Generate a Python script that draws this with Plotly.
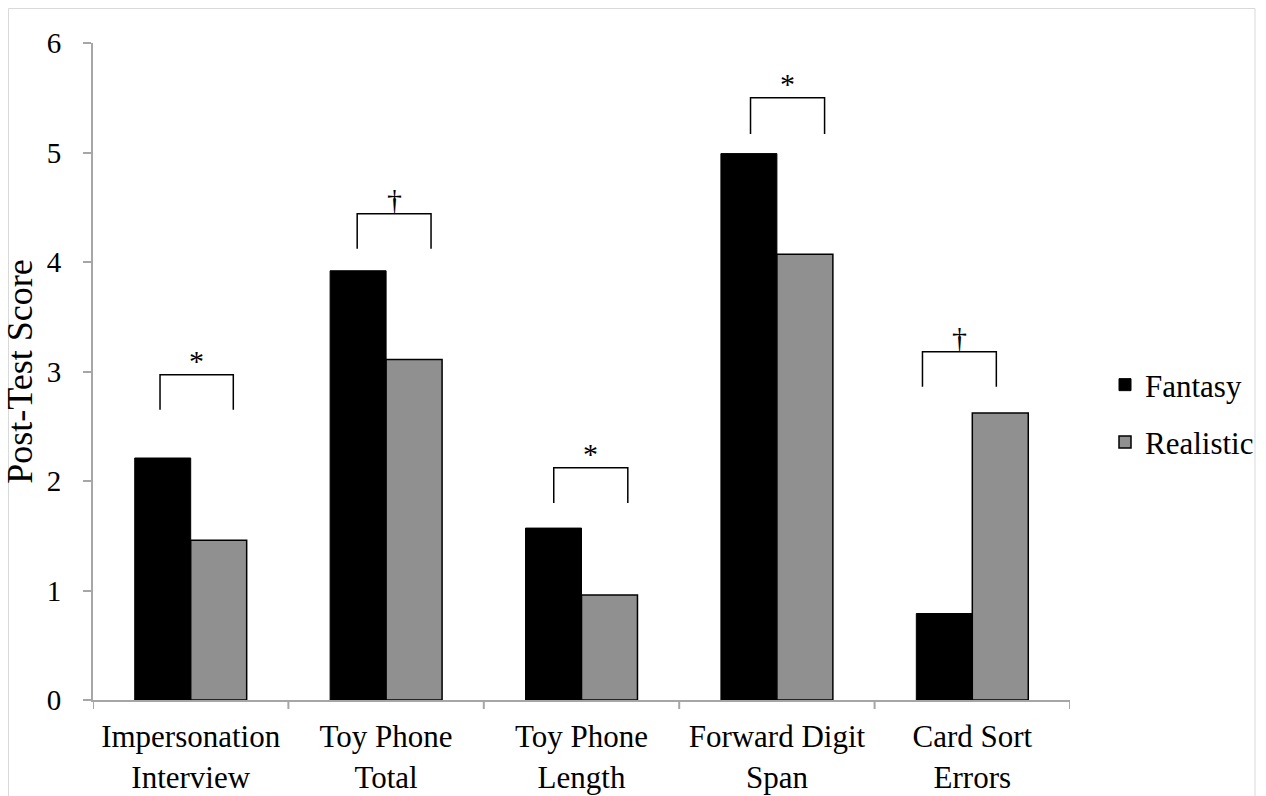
import plotly.graph_objects as go

categories = ["Impersonation<br>Interview", "Toy Phone<br>Total", "Toy Phone<br>Length",
              "Forward Digit<br>Span", "Card Sort<br>Errors"]
fantasy = [2.21, 3.92, 1.57, 4.99, 0.79]
realistic = [1.46, 3.11, 0.96, 4.07, 2.62]

# significance brackets (offsets relative to category centre, in category units)
bracket_left = [-0.157, -0.148, -0.142, -0.135, -0.255]
bracket_right = [0.218, 0.230, 0.237, 0.244, 0.123]
bracket_top = [2.97, 4.44, 2.12, 5.50, 3.18]
bracket_bottom = [2.65, 4.12, 1.80, 5.17, 2.86]
bracket_label = ["*", "†", "*", "*", "†"]

FONT = "Liberation Serif, Times New Roman, serif"
AXIS_GRAY = "#A6A6A6"

W, H = 1266, 796
# plot area in page pixels: x 93..1070, y 43..700
ML, MT = 93, 43
MR, MB = W - 1070, H - 700
PW, PH = W - ML - MR, H - MT - MB


def px_to_paper_y(abs_y):
    return (700 - abs_y) / PH


def px_to_paper_x(abs_x):
    return (abs_x - 93) / PW


fig = go.Figure()
fig.add_trace(go.Bar(name="Fantasy", x=list(range(len(categories))), y=fantasy,
                     marker=dict(color="#000000", line=dict(color="#000000", width=1)),
                     legendgroup="f"))
fig.add_trace(go.Bar(name="Realistic", x=list(range(len(categories))), y=realistic,
                     marker=dict(color="#909090", line=dict(color="#000000", width=1.5)),
                     legendgroup="r"))

shapes = []
annotations = []
for i in range(len(categories)):
    xl = i + bracket_left[i]
    xr = i + bracket_right[i]
    shapes.append(dict(type="path", xref="x", yref="y",
                       path=f"M {xl},{bracket_bottom[i]} L {xl},{bracket_top[i]} L {xr},{bracket_top[i]} L {xr},{bracket_bottom[i]}",
                       line=dict(color="#000000", width=1.5)))
    annotations.append(dict(x=(xl + xr) / 2, y=bracket_top[i], xref="x", yref="y",
                            text=bracket_label[i], showarrow=False, yanchor="bottom",
                            yshift=-4, font=dict(family=FONT, size=30, color="#000000")))

# light outer frame
shapes.append(dict(type="rect", xref="paper", yref="paper",
                   x0=px_to_paper_x(8.5), x1=px_to_paper_x(1255),
                   y0=px_to_paper_y(830), y1=px_to_paper_y(8.5),
                   line=dict(color="#D9D9D9", width=1), fillcolor="rgba(0,0,0,0)", layer="below"))

# category boundary ticks on the x axis
for b in [i - 0.5 for i in range(len(categories) + 1)]:
    shapes.append(dict(type="line", xref="x", yref="paper", x0=b, x1=b,
                       y0=0, y1=px_to_paper_y(709), line=dict(color=AXIS_GRAY, width=2)))

fig.update_layout(
    width=W, height=H,
    margin=dict(l=ML, r=MR, t=MT, b=MB, autoexpand=False),
    paper_bgcolor="white", plot_bgcolor="white",
    barmode="group", bargap=0.427, bargroupgap=0,
    font=dict(family=FONT, color="#000000"),
    shapes=shapes, annotations=annotations,
    legend=dict(xref="container", yref="container",
                x=1105 / W, xanchor="left",
                y=1 - 358 / H, yanchor="top",
                font=dict(family=FONT, size=31), tracegroupgap=14,
                bgcolor="rgba(0,0,0,0)", itemwidth=30),
    xaxis=dict(tickmode="array", tickvals=list(range(len(categories))), ticktext=categories,
               range=[-0.5, len(categories) - 0.5], automargin=False,
               showline=True, linecolor=AXIS_GRAY, linewidth=2,
               ticks="", showgrid=False, zeroline=False, ticklabelstandoff=8,
               tickfont=dict(family=FONT, size=31)),
    yaxis=dict(range=[0, 6], tickvals=[0, 1, 2, 3, 4, 5, 6], automargin=False,
               showline=True, linecolor=AXIS_GRAY, linewidth=2,
               ticks="outside", ticklen=8, tickcolor=AXIS_GRAY, tickwidth=2,
               showgrid=False, zeroline=False, ticklabelstandoff=16,
               tickfont=dict(family=FONT, size=29),
               title=dict(text="Post-Test Score", font=dict(family=FONT, size=36), standoff=10)),
)

fig.write_html("out.html", config={"displayModeBar": False},
               post_script="document.body.style.margin='0';document.body.style.overflow='hidden';")
